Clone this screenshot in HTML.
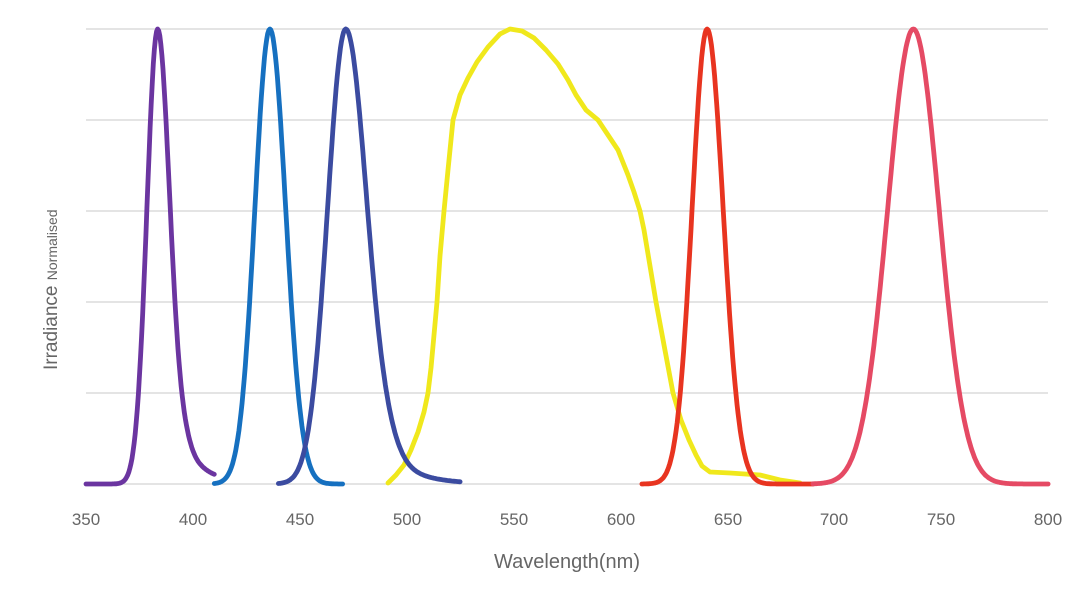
<!DOCTYPE html>
<html><head><meta charset="utf-8"><style>
html,body{margin:0;padding:0;background:#fff;}
svg{display:block;font-family:"Liberation Sans",sans-serif;}
</style></head><body>
<svg id="s" width="1080" height="592" viewBox="0 0 1080 592" xmlns="http://www.w3.org/2000/svg">
<rect width="1080" height="592" fill="#fff"/>
<g stroke="#dcdcdc" stroke-width="1.5">
<line x1="86" x2="1048" y1="29" y2="29"/>
<line x1="86" x2="1048" y1="120" y2="120"/>
<line x1="86" x2="1048" y1="211" y2="211"/>
<line x1="86" x2="1048" y1="302" y2="302"/>
<line x1="86" x2="1048" y1="393" y2="393"/>
<line x1="86" x2="1048" y1="484" y2="484"/>
</g>
<g fill="#666" font-size="17" text-anchor="middle">
<text x="86" y="525">350</text><text x="193" y="525">400</text><text x="300" y="525">450</text>
<text x="407" y="525">500</text><text x="514" y="525">550</text><text x="621" y="525">600</text>
<text x="728" y="525">650</text><text x="834" y="525">700</text><text x="941" y="525">750</text>
<text x="1048" y="525">800</text>
<text x="567" y="568" font-size="20">Wavelength(nm)</text>
</g>
<text transform="translate(57,370) rotate(-90)" fill="#666" font-size="19">Irradiance <tspan font-size="14">Normalised</tspan></text>
<g id="curves" fill="none" stroke-width="4.8" stroke-linejoin="round" stroke-linecap="round">
<polyline stroke="#f0e81c" points="388,483 396,475 404,465 411,450 418,432 424,412 428,393 431,368 434,335 437,302 440,256 444,211 448,170 453,120 460,95 468,78 477,62 488,47 500,34 510,29 522,31 534,38 546,50 558,64 568,80 576,95 586,110 598,120 608,135 618,150 628,175 634,192 640,211 644,230 648,254 652,278 656,302 664,345 673,393 681,420 689,440 696,455 702,466 710,472 730,473 760,475 780,480 800,483"/>
</g>
</svg>
<script>
var X=function(n){return 86+(n-350)*2.138},Y=function(v){return 484-v*455};
function g(c,a,b,peak,sl,sr,tail){var p=[];for(var n=a;n<=b;n+=0.5){var s=n<peak?sl:sr;var v=Math.exp(-Math.pow(n-peak,2)/(2*s*s));if(tail&&n>peak){var t=tail[0]*(1-Math.exp(-Math.pow((n-peak)/tail[2],4)))*Math.exp(-(n-peak)/tail[1]);v=v+t;}p.push(X(n).toFixed(1)+","+Y(Math.min(v,1)).toFixed(1));}
var e=document.createElementNS("http://www.w3.org/2000/svg","polyline");e.setAttribute("points",p.join(" "));e.setAttribute("stroke",c);document.getElementById("curves").appendChild(e);}
g("#6b35a0",350,410,383.5,5,5.8,[0.3,10,12]);
g("#1670c0",410,470,436,7,7.4);
g("#3b4ba0",440,525,471.5,8.5,10,[0.3,13,20]);
g("#e83420",610,690,640.5,7,7.5);
g("#e54a64",690,800,737,12,12);
</script>
</body></html>
